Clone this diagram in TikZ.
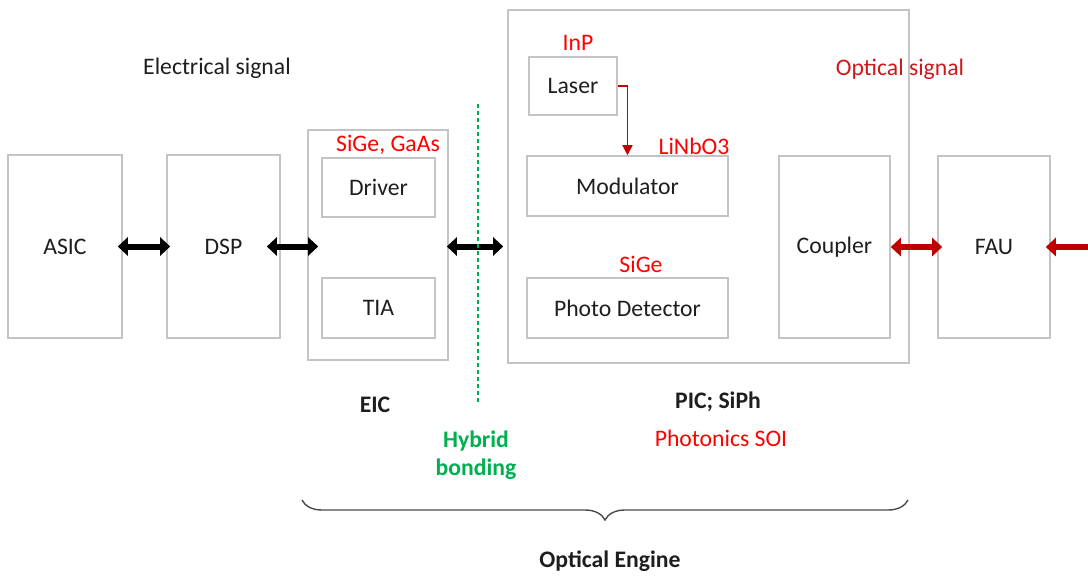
\documentclass[tikz,border=0pt]{standalone}
\usepackage{fontspec}
\setmainfont{Carlito}
\usetikzlibrary{arrows.meta,decorations.pathreplacing}
\definecolor{boxgray}{RGB}{196,196,196}
\definecolor{darkred}{RGB}{192,0,0}
\definecolor{optred}{RGB}{206,24,30}
\definecolor{matred}{RGB}{255,0,0}
\definecolor{bondgreen}{RGB}{0,176,80}
\definecolor{txtblack}{RGB}{30,30,30}

\begin{document}
\begin{tikzpicture}[x=1pt,y=-1pt,
		font=\fontsize{23.7}{28}\selectfont,text=txtblack,
		box/.style={draw=boxgray,line width=1.6pt,inner sep=0pt},
		elink/.style={line width=6pt,{Triangle[width=18pt,length=10pt]}-{Triangle[width=18pt,length=10pt]}},
		mat/.style={text=matred},
		tag/.style={font=\fontsize{23.7}{28}\selectfont\bfseries}]
	\useasboundingbox (0,0) rectangle (1088,576);
	% blocks
	\foreach \name/\x/\y/\w/\h/\txt in {asic/65/246.5/114/183/ASIC,
							dsp/223.5/246.5/113/183/DSP,
							eic/378/245/140/230/{},
							driver/378.5/187.5/113/59/Driver,
							tia/378.5/308/113/60/TIA,
							pic/708.5/186.5/401/353/{},
							laser/573/86/88/58/Laser,
							modulator/627.5/186/201/60/Modulator,
							pd/627.5/308/201/60/Photo Detector,
							coupler/834.5/247/111/182/Coupler,
							fau/994/247/112/182/FAU}
		\node[box,minimum width=\w,minimum height=\h] (\name) at (\x,\y) {\txt};
	% material labels
	\foreach \name/\x/\y/\txt in {inp/578/43/InP,
							linbo/694/146/LiNbO3,
							sige/641/264/SiGe,
							sigegaas/388/145/{SiGe, GaAs},
							soi/721/438/Photonics SOI}
		\node[mat] (\name) at (\x,\y) {\txt};
	\node (esig) at (217,68) {Electrical signal};
	\node[text=optred] (osig) at (900,69) {Optical signal};
	\node[tag] (eiclbl) at (375,405) {EIC};
	\node[tag] (piclbl) at (718,402) {PIC; SiPh};
	\node[tag] (oelbl) at (610,561) {Optical Engine};
	\node[tag,text=bondgreen,align=center] (bond) at (476,455) {Hybrid\\bonding};
	% links
	\draw[elink,shorten <=-5pt,shorten >=-4pt] (asic.east) -- (dsp.west);
	\draw[elink,shorten <=-14pt,shorten >=-11pt] (dsp.east) -- (eic.west |- dsp.east);
	\draw[elink,shorten <=-2pt,shorten >=4pt] (eic.east |- dsp.east) -- (pic.west |- dsp.east);
	\draw[elink,darkred,shorten >=-5pt] (coupler.east) -- (fau.west);
	\coordinate (fiber) at (1095,247);
	\draw[darkred,line width=6pt,-{Triangle[width=18pt,length=10pt]}] (fiber) -- ([xshift=-5]fau.east);
	\draw[darkred,line width=1.5pt,-{Triangle[width=10pt,length=10pt]}] (laser.east) -| (modulator.north);
	% bonding interface
	\draw[bondgreen,line width=1.4pt,dash pattern=on 4pt off 3pt] (478,104) -- (478,405);
	% engine brace
	\draw[txtblack!80,line width=1.4pt,decorate,decoration={brace,mirror,amplitude=20pt}] (302,500) -- (908,500);
\end{tikzpicture}
\end{document}
